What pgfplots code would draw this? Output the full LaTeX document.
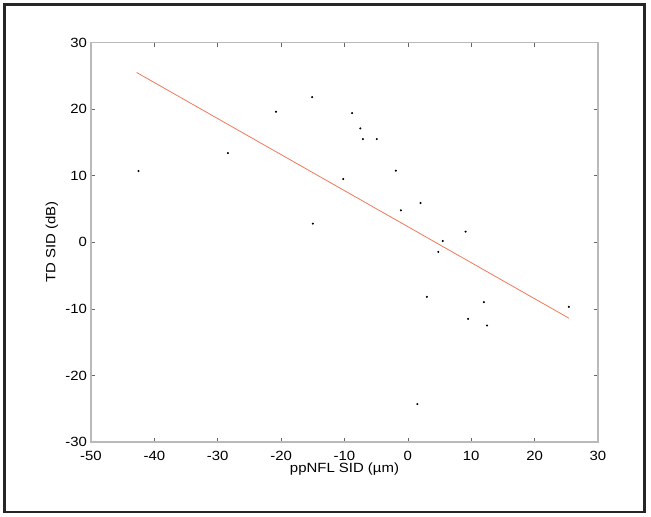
\documentclass[border=0pt]{standalone}
\usepackage{fontspec}
\setmainfont{Liberation Sans}[FakeStretch=1.12]
\usepackage{pgfplots}
\pgfplotsset{compat=1.18}
\begin{document}
\fontsize{10}{11}\selectfont
\begin{tikzpicture}
\path[use as bounding box] (-68.25pt,-56.25pt) rectangle (420pt,331.5pt);
\draw[line width=2.2pt, black!85] (-64.9pt,-52.5pt) rectangle (415.1pt,328.1pt);
\begin{axis}[
  at={(0,0)}, anchor=south west,
  scale only axis, width=380.25pt, height=299.6pt,
  xmin=-50, xmax=30, ymin=-30, ymax=30,
  xtick={-50,-40,...,30}, ytick={-30,-20,...,30},
  tick align=inside, major tick length=3pt,
  axis line style={gray!55, line width=1.3pt},
  every tick/.style={gray!80!black, line width=0.5pt},
  /pgf/number format/assume math mode=true,
  ticklabel style={font=\fontsize{10}{11}\selectfont},
  xticklabel style={yshift=-3.3pt},
  yticklabel style={xshift=0.5pt},
  xlabel={ppNFL SID (µm)}, ylabel={TD SID (dB)},
  label style={font=\fontsize{10}{11}\selectfont},
  xlabel style={yshift=5pt},
  ylabel style={yshift=-1.5pt},
  clip=false,
]
\addplot[only marks, mark=*, mark size=0.55pt, black] coordinates {
(-42.5,10.7) (-28.4,13.4) (-20.8,19.6) (-15.1,21.8) (-15.0,2.8)
(-8.8,19.4) (-7.5,17.1) (-7.1,15.5) (-4.9,15.5) (-1.9,10.75)
(-10.2,9.5) (2.0,5.9) (-1.1,4.8) (9.1,1.6) (5.5,0.2)
(4.8,-1.45) (3.0,-8.2) (12.0,-9.0) (9.5,-11.5) (12.5,-12.5)
(25.4,-9.7) (1.5,-24.3)
};
\addplot[color={rgb,255:red,240;green,120;blue,90}, line width=0.6pt] coordinates {
(-42.8,25.5) (25.4,-11.4)
};
\end{axis}
\end{tikzpicture}
\end{document}
